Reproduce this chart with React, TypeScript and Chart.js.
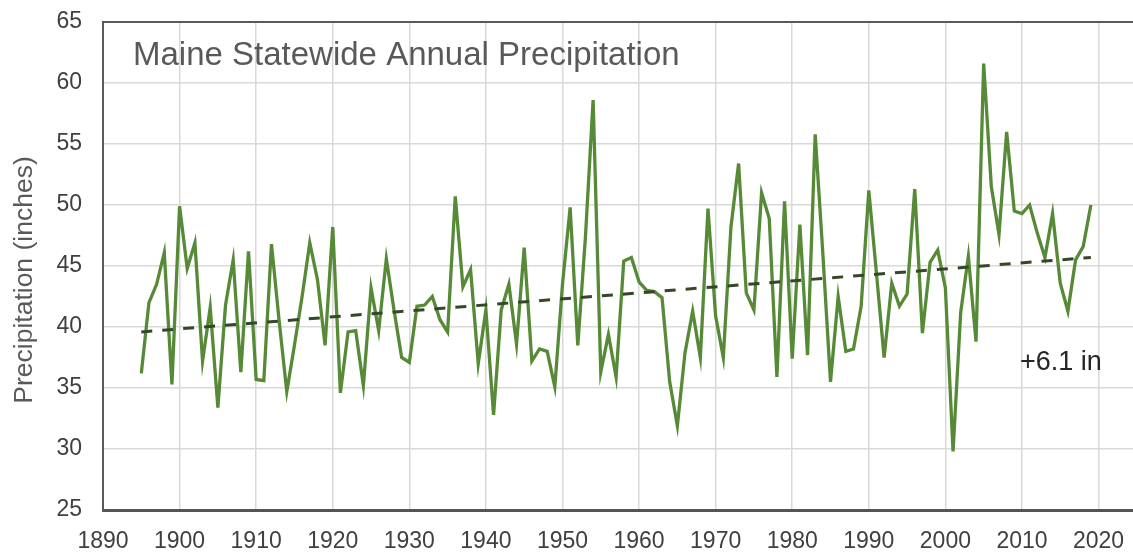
import { useEffect, useRef } from "react";
import { Chart, registerables } from "chart.js";

Chart.register(...registerables);

const years = [
  1895, 1896, 1897, 1898, 1899, 1900, 1901, 1902, 1903, 1904,
  1905, 1906, 1907, 1908, 1909, 1910, 1911, 1912, 1913, 1914,
  1915, 1916, 1917, 1918, 1919, 1920, 1921, 1922, 1923, 1924,
  1925, 1926, 1927, 1928, 1929, 1930, 1931, 1932, 1933, 1934,
  1935, 1936, 1937, 1938, 1939, 1940, 1941, 1942, 1943, 1944,
  1945, 1946, 1947, 1948, 1949, 1950, 1951, 1952, 1953, 1954,
  1955, 1956, 1957, 1958, 1959, 1960, 1961, 1962, 1963, 1964,
  1965, 1966, 1967, 1968, 1969, 1970, 1971, 1972, 1973, 1974,
  1975, 1976, 1977, 1978, 1979, 1980, 1981, 1982, 1983, 1984,
  1985, 1986, 1987, 1988, 1989, 1990, 1991, 1992, 1993, 1994,
  1995, 1996, 1997, 1998, 1999, 2000, 2001, 2002, 2003, 2004,
  2005, 2006, 2007, 2008, 2009, 2010, 2011, 2012, 2013, 2014,
  2015, 2016, 2017, 2018, 2019,
];

const precipitation = [
  36.2, 42.0, 43.5, 46.1, 35.3, 49.9, 44.8, 46.9, 37.2, 41.6,
  33.4, 41.8, 45.5, 36.3, 46.2, 35.7, 35.6, 46.8, 40.5, 34.7,
  38.5, 42.5, 46.9, 43.9, 38.5, 48.2, 34.6, 39.6, 39.7, 35.2,
  43.2, 39.7, 45.6, 41.4, 37.5, 37.1, 41.7, 41.8, 42.5, 40.6,
  39.6, 50.7, 43.3, 44.7, 37.0, 41.4, 32.8, 41.4, 43.5, 38.6,
  46.5, 37.2, 38.2, 38.0, 35.1, 43.5, 49.8, 38.5, 47.4, 58.6,
  36.3, 39.4, 35.9, 45.4, 45.7, 43.7, 43.0, 42.9, 42.4, 35.5,
  31.9, 37.9, 41.3, 37.5, 49.7, 40.9, 37.5, 48.2, 53.4, 42.8,
  41.4, 51.0, 48.9, 35.9, 50.3, 37.4, 48.4, 37.7, 55.8, 46.0,
  35.5, 42.5, 38.0, 38.2, 41.7, 51.2, 44.4, 37.5, 43.6, 41.7,
  42.7, 51.3, 39.5, 45.3, 46.3, 43.2, 29.8, 41.2, 45.8, 38.8,
  61.6, 51.5, 47.6, 56.0, 49.5, 49.3, 50.0, 47.7, 45.7, 49.3,
  43.6, 41.3, 45.5, 46.6, 50.0,
];

const trendYears = [1895, 2019];
const trendValues = [39.6, 45.7];

const xTicks = [1890, 1900, 1910, 1920, 1930, 1940, 1950, 1960, 1970, 1980, 1990, 2000, 2010, 2020];
const yTicks = [25, 30, 35, 40, 45, 50, 55, 60, 65];

const chartTitle = "Maine Statewide Annual Precipitation";
const yAxisTitle = "Precipitation (inches)";
const trendLabel = "+6.1 in";

const FONT = '"Liberation Sans", Arial, Helvetica, sans-serif';

const overlayPlugin = {
  id: "overlay",
  afterDraw(chart: any) {
    const { ctx, chartArea } = chart;
    ctx.save();
    // top border
    ctx.strokeStyle = "#5a5a5a";
    ctx.lineWidth = 2;
    ctx.beginPath();
    ctx.moveTo(chartArea.left, chartArea.top);
    ctx.lineTo(chartArea.right, chartArea.top);
    ctx.stroke();

    // chart title inside plot
    ctx.fillStyle = "#595959";
    ctx.font = `33px ${FONT}`;
    ctx.textAlign = "left";
    ctx.textBaseline = "alphabetic";
    ctx.fillText(chartTitle, chartArea.left + 30, chartArea.top + 43);

    // trend annotation
    ctx.fillStyle = "#262626";
    ctx.font = `27px ${FONT}`;
    ctx.fillText(trendLabel, 1020, 370);

    // y-axis title
    ctx.fillStyle = "#595959";
    ctx.font = `26.5px ${FONT}`;
    ctx.translate(25, 280);
    ctx.rotate(-Math.PI / 2);
    ctx.textAlign = "center";
    ctx.textBaseline = "middle";
    ctx.fillText(yAxisTitle, 0, 0);
    ctx.restore();
  },
};

export default function App() {
  const canvasRef = useRef<HTMLCanvasElement | null>(null);

  useEffect(() => {
    document.body.style.margin = "0";
    const canvas = canvasRef.current;
    if (!canvas) return;

    const chart = new Chart(canvas, {
      type: "line",
      data: {
        datasets: [
          {
            label: "Trend",
            data: trendYears.map((y, i) => ({ x: y, y: trendValues[i] })),
            borderColor: "#34472a",
            borderWidth: 3,
            borderDash: [11, 10],
            pointRadius: 0,
            fill: false,
            order: 0,
          },
          {
            label: "Precipitation",
            data: years.map((y, i) => ({ x: y, y: precipitation[i] })),
            borderColor: "#568a36",
            borderWidth: 3.3,
            pointRadius: 0,
            tension: 0,
            fill: false,
            order: 1,
          },
        ],
      },
      options: {
        animation: false,
        responsive: true,
        maintainAspectRatio: false,
        layout: { padding: { top: 22, right: 0, bottom: 0, left: 0 } },
        plugins: {
          legend: { display: false },
          tooltip: { enabled: false },
          title: { display: false },
        },
        scales: {
          x: {
            type: "linear",
            min: 1890,
            max: 2024.5,
            afterBuildTicks: (axis: any) => {
              axis.ticks = xTicks.map((v) => ({ value: v }));
            },
            afterFit: (scale: any) => {
              scale.height = 42;
              scale.paddingLeft = 0;
              scale.paddingRight = 0;
            },
            ticks: {
              autoSkip: false,
              maxRotation: 0,
              padding: 18,
              color: "#404040",
              font: { family: FONT, size: 23 },
              callback: (v: any) => String(v),
            },
            grid: { color: "#d9d9d9", lineWidth: 1.5, drawTicks: false },
            border: { display: true, color: "#555555", width: 3 },
          },
          y: {
            type: "linear",
            min: 25,
            max: 65,
            afterBuildTicks: (axis: any) => {
              axis.ticks = yTicks.map((v) => ({ value: v }));
            },
            afterFit: (scale: any) => {
              scale.width = 103;
              scale.paddingTop = 0;
              scale.paddingBottom = 0;
            },
            ticks: {
              padding: 21,
              color: "#404040",
              font: { family: FONT, size: 23 },
              callback: (v: any) => String(v),
            },
            grid: { color: "#d9d9d9", lineWidth: 1.5, drawTicks: false },
            border: { display: true, color: "#5a5a5a", width: 2 },
          },
        },
      },
      plugins: [overlayPlugin],
    });

    return () => chart.destroy();
  }, []);

  return (
    <div style={{ width: "1133px", height: "552px", position: "relative", background: "#fff" }}>
      <canvas ref={canvasRef} />
    </div>
  );
}
